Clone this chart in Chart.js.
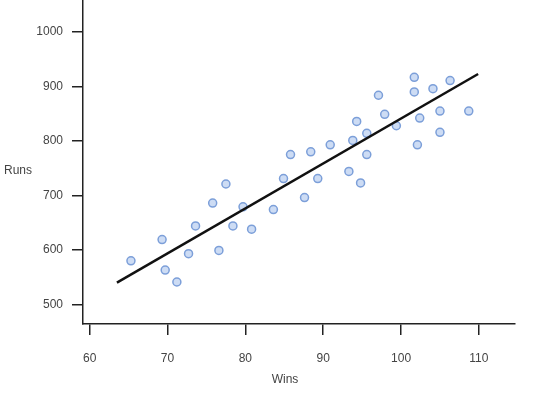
<!DOCTYPE html>
<html>
<head>
<meta charset="utf-8">
<title>Runs vs Wins</title>
<script src="https://cdn.jsdelivr.net/npm/chart.js@4.4.1/dist/chart.umd.min.js"></script>
<style>
    body { margin: 0; background: #fff; }
    #wrap { width: 540px; height: 398px; }
</style>
</head>
<body>
<div id="wrap"><canvas id="runsChart" width="540" height="398"></canvas></div>
<script>
// Team wins and runs scored
const wins = [65.3, 69.3, 69.7, 71.2, 72.7, 73.6, 76.6, 75.8, 77.5, 78.4, 79.7, 80.8,
    83.6, 84.9, 85.8, 87.6, 88.4, 89.3, 90.9, 93.3, 93.8, 94.8, 94.3, 95.6, 95.6,
    97.1, 97.9, 99.4, 102.1, 102.4, 101.7, 101.7, 104.1, 106.3, 105.0, 108.7, 105.0];
const runs = [580, 619, 563, 541, 593, 644, 599, 686, 721, 644, 679, 638,
    674, 731, 775, 696, 780, 731, 793, 744, 801, 723, 836, 814, 775,
    884, 849, 828, 793, 842, 917, 890, 896, 911, 855, 855, 816];

// Fitted line end points
const fitWins = [63.5, 109.9];
const fitRuns = [540, 923];

// Axis ticks
const xTicks = [60, 70, 80, 90, 100, 110];
const yTicks = [500, 600, 700, 800, 900, 1000];

const points = wins.map((w, i) => ({ x: w, y: runs[i] }));
const fitLine = fitWins.map((w, i) => ({ x: w, y: fitRuns[i] }));

const labelFont = { family: "'Liberation Sans', Arial, sans-serif", size: 12 };
const textColor = '#444';

// Draws the "Runs" and "Wins" axis names
const axisNames = {
    id: 'axisNames',
    afterDraw(chart) {
        const ctx = chart.ctx;
        ctx.save();
        ctx.font = "12px 'Liberation Sans', Arial, sans-serif";
        ctx.fillStyle = textColor;
        ctx.textAlign = 'center';
        ctx.textBaseline = 'middle';
        ctx.fillText('Runs', 18, 171);
        ctx.fillText('Wins', 285, 380);
        ctx.restore();
    }
};

const ctx = document.getElementById('runsChart').getContext('2d');
new Chart(ctx, {
    type: 'scatter',
    data: {
        datasets: [{
            label: 'Fit',
            data: fitLine,
            showLine: true,
            borderColor: '#111',
            borderWidth: 2.5,
            pointRadius: 0,
            order: 0
        }, {
            label: 'Teams',
            data: points,
            backgroundColor: '#cddcf4',
            borderColor: '#7c9fd9',
            borderWidth: 1.5,
            pointRadius: 4,
            order: 1
        }]
    },
    options: {
        responsive: false,
        animation: false,
        layout: { autoPadding: false, padding: { top: 0, right: 25, bottom: 0, left: 0 } },
        scales: {
            x: {
                type: 'linear',
                min: 59.14,
                max: 114.64,
                afterFit: s => { s.height = 74; s.paddingLeft = 0; s.paddingRight = 0; },
                afterBuildTicks: s => { s.ticks = xTicks.map(v => ({ value: v })); },
                border: { display: true, color: '#222', width: 1.5 },
                grid: { drawOnChartArea: false, drawTicks: true, tickLength: 11, color: '#222', lineWidth: 1.5 },
                ticks: { font: labelFont, color: textColor, padding: 16, maxRotation: 0, callback: v => String(v) }
            },
            y: {
                type: 'linear',
                min: 463.9,
                max: 1058.9,
                afterFit: s => { s.width = 83; s.paddingTop = 0; s.paddingBottom = 0; },
                afterBuildTicks: s => { s.ticks = yTicks.map(v => ({ value: v })); },
                border: { display: true, color: '#222', width: 1.5 },
                grid: { drawOnChartArea: false, drawTicks: true, tickLength: 11, color: '#222', lineWidth: 1.5 },
                ticks: { font: labelFont, color: textColor, padding: 9, callback: v => String(v) }
            }
        },
        plugins: {
            legend: { display: false },
            tooltip: { enabled: false }
        }
    },
    plugins: [axisNames]
});
</script>
</body>
</html>
